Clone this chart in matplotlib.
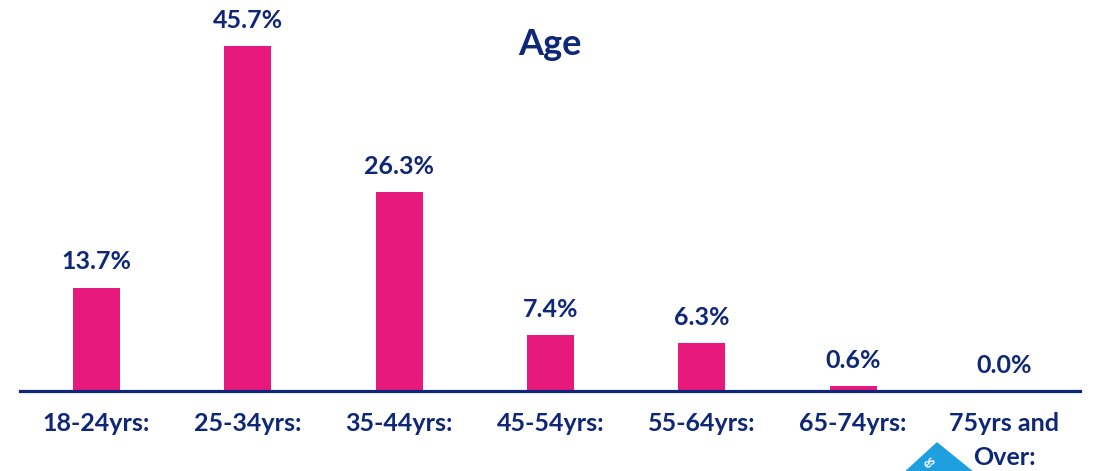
import matplotlib.pyplot as plt  # for plots
from matplotlib.patches import Polygon  # for the corner badge

# chart data
age_groups = ['18-24yrs:', '25-34yrs:', '35-44yrs:', '45-54yrs:',
              '55-64yrs:', '65-74yrs:', '75yrs and\nOver:']
percent = [13.7, 45.7, 26.3, 7.4, 6.3, 0.6, 0.0]

pink = '#E8197D'
navy = '#0E2776'
font = 'Lato'

# figure and axes, sized to the reference
fig = plt.figure(figsize=(10.94, 4.71), dpi=100)
ax = fig.add_axes([20 / 1094, 80 / 471, 1060 / 1094, 391 / 471])

x = list(range(len(age_groups)))
ax.bar(x, percent, width=0.31, color=pink, zorder=2)

# value labels above each bar
for xi, v in zip(x, percent):
    ax.text(xi, v + 1.9, f'{v:.1f}%', ha='center', va='bottom',
            fontsize=18, fontweight='bold', color=navy, family=font)

ax.set_xlim(-0.506, 6.5)
ax.set_ylim(0, 51.8)

# only the bottom spine stays, as a thick navy baseline
for side in ['top', 'right', 'left']:
    ax.spines[side].set_visible(False)
ax.spines['bottom'].set_color(navy)
ax.spines['bottom'].set_linewidth(2.3)
ax.set_yticks([])
ax.set_xticks(x)
ax.set_xticklabels(age_groups, fontsize=18, fontweight='bold', color=navy,
                   family=font, linespacing=1.6)
ax.tick_params(axis='x', length=0, pad=15)

# title
fig.text(0.503, 0.905, 'Age', ha='center', va='center', fontsize=26,
         fontweight='bold', color=navy, family=font)

# partly hidden badge in the lower right corner (display pixels)
badge = Polygon([(937, 28), (974, -2), (939, -34), (902, -4)],
                closed=True, color='#1E9FE0', transform=None, zorder=0)
fig.patches.append(badge)
fig.text(930 / 1094, 9 / 471, 'es', rotation=40, ha='center', va='center',
         fontsize=9, fontweight='bold', color='white', family=font)

fig.savefig('out.png', dpi=100)
